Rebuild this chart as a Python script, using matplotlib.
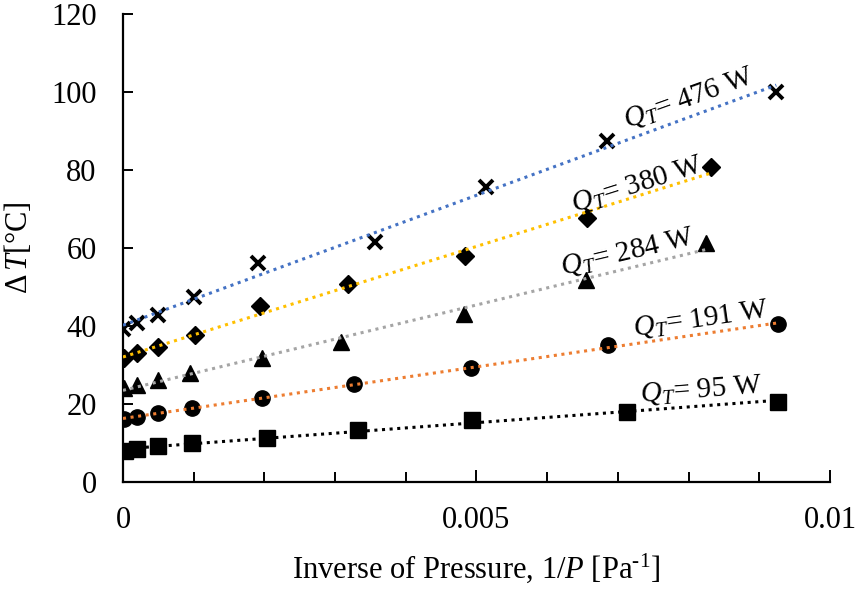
import matplotlib
matplotlib.use("Agg")
import matplotlib.pyplot as plt
from matplotlib.ticker import MultipleLocator
import numpy as np

plt.rcParams['font.family'] = 'Liberation Serif'
plt.rcParams['mathtext.fontset'] = 'custom'
plt.rcParams['mathtext.rm'] = 'Liberation Serif'
plt.rcParams['mathtext.it'] = 'Liberation Serif:italic'

# ============ DATA ============
# 1/P [Pa^-1] and dT [C] for each heat load
x_95 = [0.00003, 0.0002, 0.0005, 0.00098, 0.00203, 0.00333, 0.00494, 0.00713, 0.00926]
y_95 = [8.0, 8.4, 9.2, 9.9, 11.4, 13.3, 15.9, 17.9, 20.5]

x_191 = [0.00001, 0.0002, 0.0005, 0.00097, 0.00197, 0.00327, 0.00492, 0.00686, 0.00926]
y_191 = [16.2, 16.7, 17.6, 18.9, 21.6, 25.0, 29.2, 35.0, 40.4]

x_284 = [0.00001, 0.0002, 0.0005, 0.00095, 0.00197, 0.00309, 0.00483, 0.00655, 0.00824]
y_284 = [24.0, 24.9, 26.2, 27.9, 31.7, 36.0, 43.1, 51.8, 61.2]

x_380 = [0.00001, 0.0002, 0.0005, 0.00102, 0.00194, 0.00318, 0.00484, 0.00656, 0.00832]
y_380 = [31.7, 33.0, 34.5, 37.7, 45.1, 50.8, 58.0, 67.6, 80.7]

x_476 = [0.0, 0.0002, 0.0005, 0.001, 0.00191, 0.00357, 0.00513, 0.00685, 0.00924]
y_476 = [39.2, 40.7, 42.7, 47.5, 56.1, 61.5, 75.7, 87.5, 100.1]

labels = ['95', '191', '284', '380', '476']
markers = ['s', 'o', '^', 'D', 'x']
marker_sizes = [11, 11, 11, 9, 10]
trend_colors = ['black', '#ED7D31', '#A5A5A5', '#FFC000', '#4472C4']
label_pos = [(0.00818, 23.6), (0.00818, 41.8), (0.00714, 59.0), (0.00728, 76.2), (0.00800, 98.3)]
label_rot = [4.4, 8.1, 13.3, 17.5, 19.7]

xs = [x_95, x_191, x_284, x_380, x_476]
ys = [y_95, y_191, y_284, y_380, y_476]

# ============ PLOT ============
fig = plt.figure(figsize=(8.57, 5.94), dpi=100)
ax = fig.add_axes([0.1435, 0.1886, 0.825, 0.7878])

for i in range(len(labels)):
    x = np.array(xs[i])
    y = np.array(ys[i])
    if markers[i] == 'x':
        ax.plot(x, y, linestyle='none', marker='x', markersize=marker_sizes[i],
                color='black', markeredgewidth=2.8, zorder=2)
    else:
        ax.plot(x, y, linestyle='none', marker=markers[i], markersize=marker_sizes[i],
                color='black', zorder=2)
    # linear trendline from 0 to last point
    k, b = np.polyfit(x, y, 1)
    xt = np.array([0.0, x.max()])
    ax.plot(xt, k * xt + b, linestyle=(0, (1, 1.5)), linewidth=2.2,
            color=trend_colors[i], zorder=3)
    ax.text(label_pos[i][0], label_pos[i][1], r'$Q_T$= ' + labels[i] + ' W',
            fontsize=21, rotation=label_rot[i], rotation_mode='anchor',
            ha='center', va='center', zorder=4)

ax.set_xlim(0, 0.01)
ax.set_ylim(0, 120)
ax.set_xticks([0, 0.005, 0.01])
ax.set_xticklabels(['0', '0.005', '0.01'])
ax.xaxis.set_minor_locator(MultipleLocator(0.001))
ax.set_yticks(range(0, 121, 20))

for s in ['top', 'right']:
    ax.spines[s].set_visible(False)
for s in ['left', 'bottom']:
    ax.spines[s].set_linewidth(1.6)

ax.tick_params(axis='x', which='major', direction='in', length=9, width=1.4,
               labelsize=22, pad=17)
ax.tick_params(axis='x', which='minor', direction='in', length=7, width=1.4)
ax.tick_params(axis='y', which='major', direction='in', length=7, width=1.4,
               labelsize=22, pad=19)

ax.set_xlabel(r'Inverse of Pressure, 1/$P$ [Pa$^{\text{-1}}$]', fontsize=22, labelpad=12)
ax.set_ylabel(r'$\Delta\,T$[°C]', fontsize=22, labelpad=12)

plt.savefig('out.png', dpi=100)
